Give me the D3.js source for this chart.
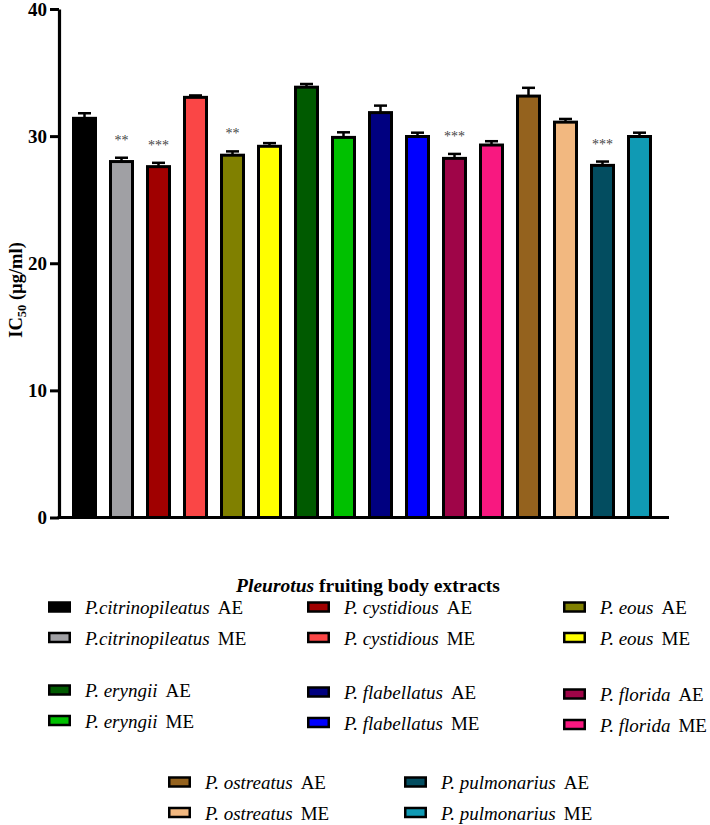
<!DOCTYPE html>
<html><head><meta charset="utf-8">
<script src="https://cdn.jsdelivr.net/npm/d3@7"></script>
<style>body{margin:0;background:#fff}</style>
</head><body>
<svg id="c" width="710" height="825"></svg>
<script>
const species = ["P.citrinopileatus","P.citrinopileatus","P. cystidious","P. cystidious","P. eous","P. eous",
  "P. eryngii","P. eryngii","P. flabellatus","P. flabellatus","P. florida","P. florida",
  "P. ostreatus","P. ostreatus","P. pulmonarius","P. pulmonarius"];
const extractType = ["AE","ME","AE","ME","AE","ME","AE","ME","AE","ME","AE","ME","AE","ME","AE","ME"];
const values = [31.4,28.0,27.6,33.05,28.5,29.2,33.85,29.9,31.85,29.97,28.25,29.3,33.15,31.1,27.7,29.97];
const errors = [0.4,0.3,0.3,0.15,0.3,0.25,0.25,0.4,0.55,0.3,0.35,0.3,0.65,0.25,0.3,0.3];
const significance = ["","**","***","","**","","","","","","***","","","","***",""];
const colors = ["#000000","#a0a0a4","#a00000","#fa4646","#808000","#ffff00","#005a00","#00c000",
  "#000080","#0000ff","#9f0548","#f81880","#94621e","#f2b880","#034d60","#109ab4"];
const yTicks = [0,10,20,30,40];

const svg = d3.select("#c");
const font = "'Liberation Serif','Times New Roman',serif";
const y = d3.scaleLinear().domain([0,40]).range([517.5,9]);
const x = d3.scalePoint().domain(d3.range(16)).range([66,658]).padding(0.5);
const bw = 22;

// bars
svg.append("g").selectAll("rect").data(values).join("rect")
  .attr("x",(d,i)=>x(i)-bw/2).attr("y",d=>y(d))
  .attr("width",bw).attr("height",d=>y(0)-y(d))
  .attr("fill",(d,i)=>colors[i]).attr("stroke","#000").attr("stroke-width",3);

// error bars
const eg = svg.append("g").attr("stroke","#000").attr("stroke-width",2.5);
values.forEach((v,i)=>{
  eg.append("line").attr("x1",x(i)).attr("x2",x(i)).attr("y1",y(v)).attr("y2",y(v+errors[i]));
  eg.append("line").attr("x1",x(i)-6.5).attr("x2",x(i)+6.5).attr("y1",y(v+errors[i])).attr("y2",y(v+errors[i]));
});

// significance
svg.append("g").selectAll("text").data(significance).join("text")
  .attr("x",(d,i)=>x(i)).attr("y",(d,i)=>y(values[i]+errors[i])-13)
  .attr("text-anchor","middle").attr("font-family",font).attr("font-size",14)
  .attr("fill","#444").text(d=>d);

// axes
const ya = svg.append("g").attr("transform","translate(59,0)")
  .call(d3.axisLeft(y).tickValues(yTicks).tickSize(9).tickSizeOuter(0).tickPadding(3));
ya.select(".domain").attr("stroke-width",3.2);
ya.selectAll(".tick line").attr("stroke-width",3);
ya.selectAll("text").attr("font-family",font).attr("font-size",19).attr("font-weight","bold").attr("fill","#000");

svg.append("line").attr("x1",57.5).attr("x2",669).attr("y1",y(0)).attr("y2",y(0))
  .attr("stroke","#000").attr("stroke-width",3.2);

// y title
const yt = svg.append("text").attr("transform","translate(22,290) rotate(-90)")
  .attr("text-anchor","middle").attr("font-family",font).attr("font-size",18.5).attr("font-weight","bold");
yt.append("tspan").text("IC");
yt.append("tspan").attr("font-size",12.5).attr("dy",4).text("50");
yt.append("tspan").attr("dy",-4).text(" (µg/ml)");

// x title
const xt = svg.append("text").attr("x",368).attr("y",592).attr("text-anchor","middle")
  .attr("font-family",font).attr("font-size",19.5).attr("font-weight","bold");
xt.append("tspan").attr("font-style","italic").text("Pleurotus");
xt.append("tspan").text(" fruiting body extracts");

// legend
const groupPos = [[48,614],[307,614],[563,614],[48,697],[307,699],[563,701],[168,789],[404,789]];
const lg = svg.append("g");
species.forEach((s,i)=>{
  const g = Math.floor(i/2), r = i%2;
  const [gx,gy] = groupPos[g];
  const by = gy + r*30.5;
  lg.append("rect").attr("x",gx+1.25).attr("y",by-11.5).attr("width",20.5).attr("height",9)
    .attr("fill",colors[i]).attr("stroke","#000").attr("stroke-width",2.5);
  const t = lg.append("text").attr("x",gx+37).attr("y",by).attr("font-family",font).attr("font-size",19);
  t.append("tspan").attr("font-style","italic").text(s);
  t.append("tspan").attr("dx",8).text(extractType[i]);
});
</script>
</body></html>
